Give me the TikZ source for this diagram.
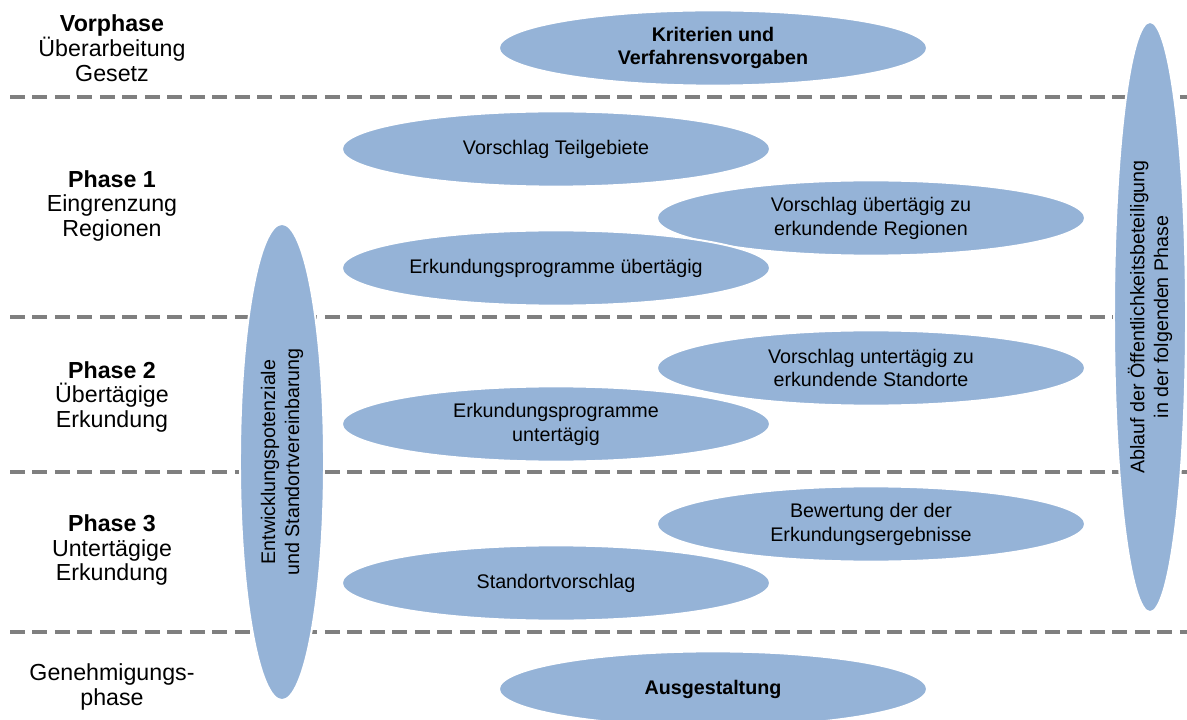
\documentclass[tikz,border=0pt]{standalone}
\usepackage{fontspec}
\setmainfont{Liberation Sans}
\usetikzlibrary{shapes.geometric}
\definecolor{ellblue}{HTML}{95B3D7}
\definecolor{sepgray}{HTML}{7F7F7F}

\begin{document}
\begin{tikzpicture}[x=0.025cm,y=-0.025cm]
 \tikzstyle{phaselabel} = [align=center,font=\fontsize{16.5}{17.7}\selectfont]
 \tikzstyle{stepell} = [ellipse,fill=ellblue,draw=white,line width=1.4pt,inner sep=0,minimum width=10.7cm,minimum height=1.88cm,align=center,font=\fontsize{14}{17}\selectfont]
 \tikzstyle{tallell} = [stepell,rotate=90]
 \tikzstyle{separator} = [sepgray,line width=2.6pt,dash pattern=on 10.5pt off 5.5pt]
 \newcommand{\xl}{112}
 \newcommand{\xa}{556}
 \newcommand{\xb}{871}

  \useasboundingbox (0,0) rectangle (1187,720);

  % Separators between the phases
  \draw[separator] (10,97) -- (1187,97);
  \draw[separator] (10,317) -- (1187,317);
  \draw[separator] (10,472) -- (1187,472);
  \draw[separator] (10,632) -- (1187,632);

  % Phases
  \node[phaselabel] (vor) at (\xl,48) {\textbf{Vorphase}\\\"Uberarbeitung\\Gesetz};
  \node[phaselabel] (ph1) at (\xl,206) {\textbf{Phase 1}\\Eingrenzung\\Regionen};
  \node[phaselabel] (ph2) at (\xl,397) {\textbf{Phase 2}\\\"Ubert\"agige\\Erkundung};
  \node[phaselabel] (ph3) at (\xl,550) {\textbf{Phase 3}\\Untert\"agige\\Erkundung};
  \node[phaselabel] (gen) at (\xl,687) {Genehmigungs-\\phase};

  % Steps
  \node[stepell] (krit) at (713,48) {\textbf{Kriterien und}\\\textbf{Verfahrensvorgaben}};
  \node[stepell] (teil) at (\xa,149) {Vorschlag Teilgebiete};
  \node[stepell] (reg) at (\xb,218) {Vorschlag \"ubert\"agig zu\\erkundende Regionen};
  \node[stepell] (epue) at (\xa,268) {Erkundungsprogramme \"ubert\"agig};
  \node[stepell] (std) at (\xb,368) {Vorschlag untert\"agig zu\\erkundende Standorte};
  \node[stepell] (epun) at (\xa,424) {Erkundungsprogramme\\untert\"agig};
  \node[stepell] (bew) at (\xb,524) {Bewertung der der\\Erkundungsergebnisse};
  \node[stepell] (svor) at (\xa,583) {Standortvorschlag};
  \node[stepell] (ausg) at (713,689) {\textbf{Ausgestaltung}};

  % Across the phases
  \node[tallell,minimum width=11.9cm,minimum height=2.1cm] (entw) at (282,462) {Entwicklungspotenziale\\und Standortvereinbarung};
  \node[tallell,minimum width=14.75cm,minimum height=1.8cm] (oeff) at (1150,317) {Ablauf der \"Offentlichkeitsbeteiligung\\in der folgenden Phase};

\end{tikzpicture}
\end{document}
